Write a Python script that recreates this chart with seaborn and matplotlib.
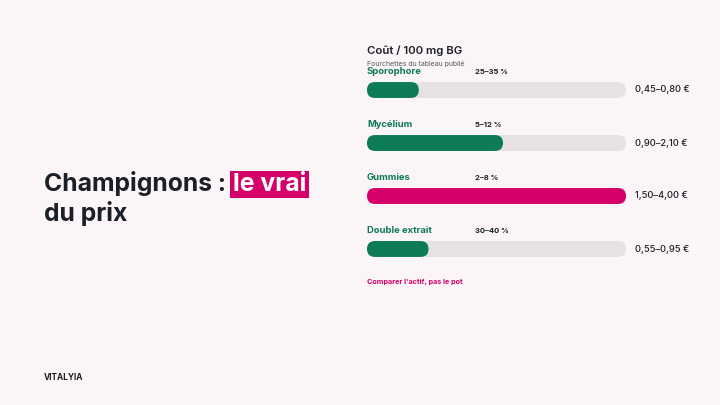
import matplotlib
matplotlib.use("Agg")
import matplotlib.pyplot as plt
import matplotlib.transforms as mtransforms
from matplotlib.patches import FancyBboxPatch
import pandas as pd
import seaborn as sns

categories = ["Sporophore", "Mycélium", "Gummies", "Double extrait"]
beta_glucanes = ["25–35 %", "5–12 %", "2–8 %", "30–40 %"]
cout_bas = [0.45, 0.90, 1.50, 0.55]
cout_haut = [0.80, 2.10, 4.00, 0.95]
mise_en_avant = "Gummies"

BG = "#FBF5F7"
GREEN = "#0C7B56"
PINK = "#D6006B"
TRACK = "#E5E1E4"
INK = "#1B1F27"
W, H = 720, 405


def fx(px):
    return px / W


def fy(py):
    return 1 - py / H


def euros(v):
    return f"{v:.2f}".replace(".", ",")


df = pd.DataFrame({"cat": categories, "bas": cout_bas, "haut": cout_haut, "bg": beta_glucanes})
echelle = max(cout_haut)
df["plein"] = echelle

sns.set_theme(style="white")
plt.rcParams["font.family"] = ["Inter", "DejaVu Sans"]

fig = plt.figure(figsize=(7.2, 4.05), dpi=100, facecolor=BG)
bg_ax = fig.add_axes([0, 0, 1, 1])
bg_ax.axis("off")

ax = fig.add_axes([fx(367), fy(275.5), fx(626) - fx(367), 212 / H])
bar_h = 0.30
sns.barplot(data=df, y="cat", x="plein", color=TRACK, width=bar_h, ax=ax, orient="h",
            saturation=1)
pal = {c: (PINK if c == mise_en_avant else GREEN) for c in categories}
sns.barplot(data=df, y="cat", x="haut", hue="cat", palette=pal, width=bar_h, ax=ax,
            orient="h", legend=False, saturation=1)
ax.set_xlim(0, echelle)
ax.set_ylim(len(categories) - 0.5, -0.5)
ax.axis("off")

# barres arrondies
bb = ax.get_window_extent()
px_x = bb.width / echelle
px_y = bb.height / len(categories)
asp = px_x / px_y
for p in list(ax.patches):
    x, y = p.get_x(), p.get_y()
    w, h = p.get_width(), p.get_height()
    r = abs(h) / (2 * asp)
    fb = FancyBboxPatch((x, min(y, y + h)), w, abs(h),
                        boxstyle=f"round,pad=0,rounding_size={r}",
                        mutation_aspect=asp, fc=p.get_facecolor(), ec="none")
    p.remove()
    ax.add_patch(fb)

trans = mtransforms.blended_transform_factory(ax.transAxes, ax.transData)
for i, row in df.iterrows():
    ax.text(0, i - 0.34, row["cat"], color=GREEN, fontsize=6.8, fontweight="bold",
            va="center", ha="left")
    ax.text(108 / 259, i - 0.34, row["bg"], color=INK, fontsize=5.5, fontweight="bold",
            va="center", ha="left", transform=trans)
    ax.annotate(f"{euros(row['bas'])}–{euros(row['haut'])} €", xy=(echelle, i),
                xytext=(6.5, 0), textcoords="offset points", va="center", ha="left",
                color=INK, fontsize=6.7, fontweight="medium")

fig.text(fx(367), fy(51), "Coût / 100 mg BG", color=INK, fontsize=8.2,
         fontweight="semibold", va="center", ha="left")
fig.text(fx(367), fy(64), "Fourchettes du tableau publié", color="#555A60", fontsize=5,
         va="center", ha="left")
fig.text(fx(367), fy(282), "Comparer l'actif, pas le pot", color=PINK, fontsize=5.2,
         fontweight="bold", va="center", ha="left")

t1 = fig.text(fx(44), fy(191), "Champignons :", color=INK, fontsize=17.8,
              fontweight="bold", va="baseline", ha="left")
bg_ax.annotate("le vrai", xy=(1, 0), xycoords=t1, xytext=(5, 0),
               textcoords="offset points", va="bottom", ha="left", color="white",
               fontsize=17.8, fontweight="bold",
               bbox=dict(boxstyle="square,pad=0.1", fc=PINK, ec="none"))
fig.text(fx(44), fy(221), "du prix", color=INK, fontsize=17.8,
         fontweight="bold", va="baseline", ha="left")

fig.text(fx(44), fy(378), "VITALYIA", color=INK, fontsize=6, fontweight="bold",
         va="center", ha="left")

fig.savefig("out.png", dpi=100, facecolor=BG)
